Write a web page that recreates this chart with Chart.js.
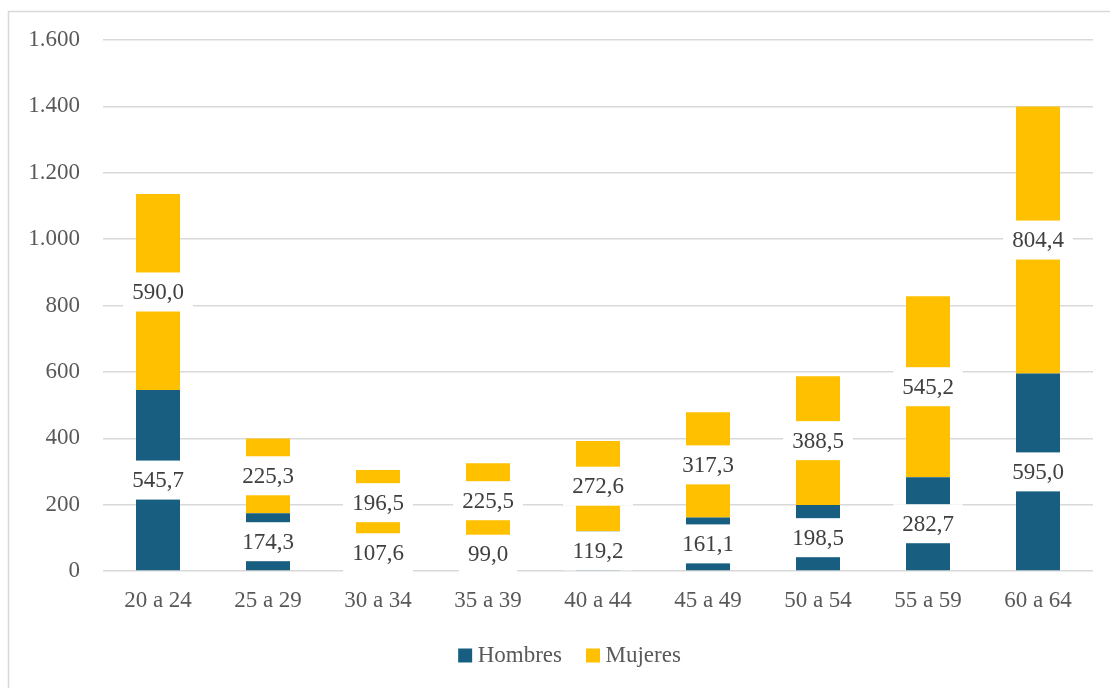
<!DOCTYPE html>
<html>
<head>
<meta charset="utf-8">
<script src="https://cdn.jsdelivr.net/npm/chart.js@4/dist/chart.umd.min.js"></script>
<style>
  html, body { margin: 0; padding: 0; background: #fff; }
  #wrap { position: relative; width: 1110px; height: 688px; }
</style>
</head>
<body>
<div id="wrap"><canvas id="chart"></canvas></div>
<script>
// datos
const categories = ['20 a 24', '25 a 29', '30 a 34', '35 a 39', '40 a 44', '45 a 49', '50 a 54', '55 a 59', '60 a 64']
const hombres = [545.7, 174.3, 107.6, 99.0, 119.2, 161.1, 198.5, 282.7, 595.0]
const mujeres = [590.0, 225.3, 196.5, 225.5, 272.6, 317.3, 388.5, 545.2, 804.4]
const yTicks = [0, 200, 400, 600, 800, 1000, 1200, 1400, 1600]

const FONT = '"Liberation Serif", "Times New Roman", serif'

function fmtMiles(v) {
    return String(Math.round(v)).replace(/\B(?=(\d{3})+(?!\d))/g, '.')
}
function fmtDecimal(v) {
    return v.toFixed(1).replace('.', ',')
}

// marco exterior (solo se ven los bordes izquierdo y superior)
const frame = {
    id: 'frame',
    beforeDraw(chart) {
        const ctx = chart.ctx
        ctx.save()
        ctx.strokeStyle = '#d9d9d9'
        ctx.lineWidth = 1.5
        ctx.beginPath()
        ctx.moveTo(8.5, 700)
        ctx.lineTo(8.5, 11.5)
        ctx.lineTo(1200, 11.5)
        ctx.stroke()
        ctx.restore()
    }
}

// la leyenda en el original esta un poco a la derecha
const shiftLegend = {
    id: 'shiftLegend',
    afterLayout(chart) {
        if (chart.legend) {
            chart.legend.left += 26
            chart.legend.right += 26
        }
    }
}

// etiquetas con caja blanca, como en Excel
const boxLabels = {
    id: 'boxLabels',
    afterDatasetsDraw(chart) {
        const ctx = chart.ctx
        ctx.save()
        ctx.font = '23px ' + FONT
        ctx.textAlign = 'center'
        ctx.textBaseline = 'middle'
        chart.data.datasets.forEach((ds, i) => {
            const meta = chart.getDatasetMeta(i)
            meta.data.forEach((bar, j) => {
                const txt = fmtDecimal(ds.data[j])
                const cy = (bar.y + bar.base) / 2
                const w = ctx.measureText(txt).width + 18
                const h = 39
                ctx.fillStyle = '#ffffff'
                ctx.fillRect(bar.x - w / 2, cy - h / 2, w, h)
                ctx.fillStyle = '#404040'
                ctx.fillText(txt, bar.x, cy + 1)
            })
        })
        ctx.restore()
    }
}

new Chart(document.getElementById('chart'), {
    type: 'bar',
    data: {
        labels: categories,
        datasets: [
            { label: 'Hombres', data: hombres, backgroundColor: '#175e80' },
            { label: 'Mujeres', data: mujeres, backgroundColor: '#ffc000' }
        ]
    },
    options: {
        responsive: true,
        maintainAspectRatio: false,
        animation: false,
        categoryPercentage: 1,
        barPercentage: 0.4,
        layout: { padding: { top: 40, right: 17, bottom: 11, left: 0 } },
        plugins: {
            legend: {
                position: 'bottom',
                labels: {
                    usePointStyle: true,
                    pointStyle: 'rect',
                    boxWidth: 2,
                    boxHeight: 14,
                    padding: 30,
                    color: '#595959',
                    font: { family: FONT, size: 23 }
                }
            },
            tooltip: { enabled: false }
        },
        scales: {
            x: {
                stacked: true,
                grid: { display: false, drawTicks: false },
                border: { display: false },
                ticks: { color: '#595959', padding: 16, font: { family: FONT, size: 23 } },
                afterFit(scale) { scale.height = 43 }
            },
            y: {
                stacked: true,
                min: 0,
                max: 1600,
                afterBuildTicks(scale) { scale.ticks = yTicks.map(v => ({ value: v })) },
                grid: { color: '#d9d9d9', lineWidth: 1.5, drawTicks: false },
                border: { display: false },
                ticks: {
                    color: '#595959',
                    padding: 23,
                    font: { family: FONT, size: 23 },
                    callback: v => fmtMiles(v)
                },
                afterFit(scale) { scale.width = 103 }
            }
        }
    },
    plugins: [frame, shiftLegend, boxLabels]
})
</script>
</body>
</html>
